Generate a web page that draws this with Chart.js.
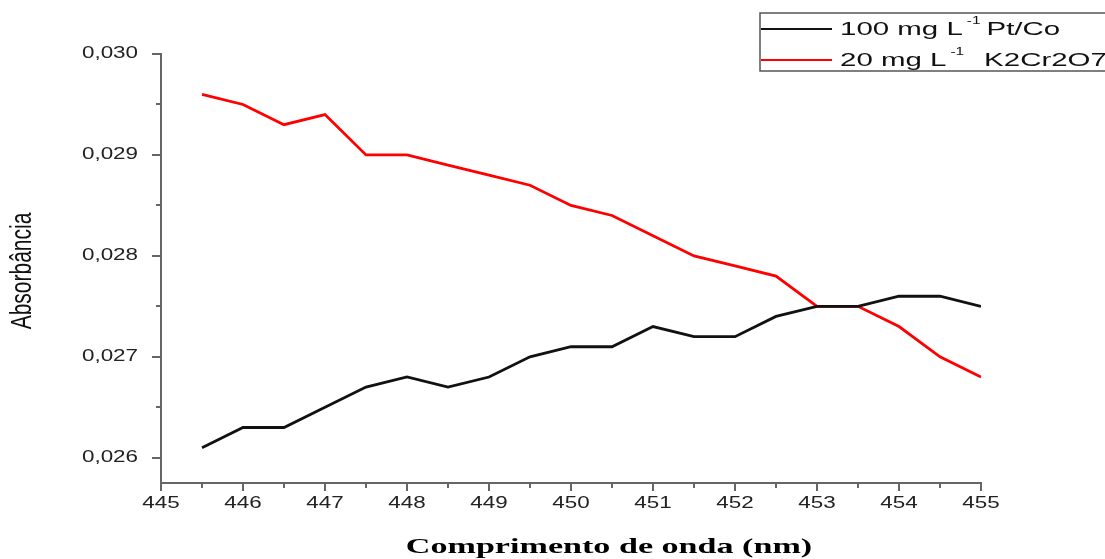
<!DOCTYPE html>
<html>
<head>
<meta charset="utf-8">
<script src="https://cdn.jsdelivr.net/npm/chart.js@4/dist/chart.umd.min.js"></script>
<style>
  html, body { margin: 0; padding: 0; background: #fff; }
  #wrap { width: 1105px; height: 559px; position: relative; }
</style>
</head>
<body>
<div id="wrap"><canvas id="absChart"></canvas></div>
<script>
// wavelength (nm)
var wavelengths = [445.5, 446, 446.5, 447, 447.5, 448, 448.5, 449, 449.5, 450,
                   450.5, 451, 451.5, 452, 452.5, 453, 453.5, 454, 454.5, 455];
var ptCo = [0.0261, 0.0263, 0.0263, 0.0265, 0.0267, 0.0268, 0.0267, 0.0268, 0.0270, 0.0271,
            0.0271, 0.0273, 0.0272, 0.0272, 0.0274, 0.0275, 0.0275, 0.0276, 0.0276, 0.0275];
var k2cr2o7 = [0.0296, 0.0295, 0.0293, 0.0294, 0.0290, 0.0290, 0.0289, 0.0288, 0.0287, 0.0285,
               0.0284, 0.0282, 0.0280, 0.0279, 0.0278, 0.0275, 0.0275, 0.0273, 0.0270, 0.0268];
var xTicks = [445, 446, 447, 448, 449, 450, 451, 452, 453, 454, 455];
var yTicks = [0.026, 0.027, 0.028, 0.029, 0.030];

var axisColor = '#666';
var SANS = '"Liberation Sans", Arial, sans-serif';
var SERIF = '"Liberation Serif", "Times New Roman", serif';
// the original picture is stretched sideways, so text is widened
var SX = 1.4;

function toPoints(ys) {
  return wavelengths.map(function (x, i) { return { x: x, y: ys[i] }; });
}

function wideText(ctx, txt, x, y, sx, align) {
  ctx.save();
  ctx.translate(x, y);
  ctx.scale(sx, 1);
  ctx.textAlign = align || 'left';
  ctx.fillText(txt, 0, 0);
  ctx.restore();
  return ctx.measureText(txt).width * sx;
}

// ticks, tick labels and axis titles
var axisPlugin = {
  id: 'axisDecor',
  afterDraw: function (chart) {
    var ctx = chart.ctx;
    var xs = chart.scales.x, ys = chart.scales.y;
    var area = chart.chartArea;
    ctx.save();
    ctx.strokeStyle = axisColor;
    ctx.lineWidth = 2;
    ctx.beginPath();
    for (var v = xTicks[0]; v <= xTicks[xTicks.length - 1] + 1e-9; v += 0.5) {
      var px = Math.round(xs.getPixelForValue(v));
      var major = Math.abs(v - Math.round(v)) < 1e-9;
      ctx.moveTo(px, area.bottom);
      ctx.lineTo(px, area.bottom + (major ? 8 : 5));
    }
    for (var k = 0; k < yTicks.length; k++) {
      var py = Math.round(ys.getPixelForValue(yTicks[k]));
      ctx.moveTo(area.left, py);
      ctx.lineTo(area.left - 9, py);
      var mid = yTicks[k] - 0.0005;
      if (mid >= ys.min) {
        var pm = Math.round(ys.getPixelForValue(mid));
        ctx.moveTo(area.left, pm);
        ctx.lineTo(area.left - 5, pm);
      }
    }
    ctx.stroke();

    // tick labels
    ctx.fillStyle = '#222';
    ctx.font = '16px ' + SANS;
    ctx.textBaseline = 'middle';
    xTicks.forEach(function (t) {
      wideText(ctx, String(t), xs.getPixelForValue(t), area.bottom + 21, SX, 'center');
    });
    yTicks.forEach(function (t) {
      wideText(ctx, t.toFixed(3).replace('.', ','), area.left - 23, ys.getPixelForValue(t), SX, 'right');
    });

    // x title
    ctx.fillStyle = '#000';
    ctx.font = 'bold 22px ' + SERIF;
    ctx.textBaseline = 'alphabetic';
    wideText(ctx, 'Comprimento de onda (nm)', 609, 553, 1.55, 'center');

    // y title (rotated)
    ctx.fillStyle = '#111';
    ctx.font = '21px ' + SANS;
    ctx.textBaseline = 'middle';
    ctx.save();
    ctx.translate(23, 271);
    ctx.scale(SX, 1);
    ctx.rotate(-Math.PI / 2);
    ctx.textAlign = 'center';
    ctx.fillText('Absorbância', 0, 0);
    ctx.restore();
    ctx.restore();
  }
};

// legend box like the original (with superscript)
var legendPlugin = {
  id: 'boxLegend',
  afterDraw: function (chart) {
    var ctx = chart.ctx;
    var ds = chart.data.datasets;
    var bx = 760, by = 13, bw = 360, bh = 58;
    ctx.save();
    ctx.strokeStyle = '#555';
    ctx.lineWidth = 1.5;
    ctx.strokeRect(bx, by, bw, bh);
    var rows = [
      { pre: '100 mg L', sup: '-1', gap: 6, post: 'Pt/Co', y: 29 },
      { pre: '20 mg L', sup: '-1', gap: 20, post: 'K2Cr2O7', y: 60 }
    ];
    for (var i = 0; i < rows.length; i++) {
      var cy = rows[i].y;
      ctx.strokeStyle = ds[i].borderColor;
      ctx.lineWidth = 2.2;
      ctx.beginPath();
      ctx.moveTo(bx + 1, cy);
      ctx.lineTo(bx + 72, cy);
      ctx.stroke();
      ctx.fillStyle = '#111';
      ctx.textBaseline = 'middle';
      ctx.font = '19px ' + SANS;
      var tx = 840;
      tx += wideText(ctx, rows[i].pre, tx, cy + 1, 1.55) + 4;
      ctx.font = '11px ' + SANS;
      tx += wideText(ctx, rows[i].sup, tx, cy - 8, 1.4) + rows[i].gap;
      ctx.font = '19px ' + SANS;
      wideText(ctx, rows[i].post, tx, cy + 1, 1.55);
    }
    ctx.restore();
  }
};

var ctx = document.getElementById('absChart').getContext('2d');
var absChart = new Chart(ctx, {
  type: 'line',
  data: {
    datasets: [{
      label: '100 mg L-1 Pt/Co',
      data: toPoints(ptCo),
      borderColor: '#111111',
      borderWidth: 2.8,
      pointRadius: 0,
      tension: 0
    }, {
      label: '20 mg L-1  K2Cr2O7',
      data: toPoints(k2cr2o7),
      borderColor: '#ff0000',
      borderWidth: 2.8,
      pointRadius: 0,
      tension: 0
    }]
  },
  options: {
    responsive: true,
    maintainAspectRatio: false,
    animation: false,
    layout: {
      padding: { top: 54, right: 124, left: 0, bottom: 0 }
    },
    plugins: {
      legend: { display: false },
      tooltip: { enabled: false }
    },
    scales: {
      x: {
        type: 'linear',
        min: 445,
        max: 455,
        afterBuildTicks: function (scale) {
          scale.ticks = xTicks.map(function (v) { return { value: v }; });
        },
        afterFit: function (scale) { scale.height = 76; },
        grid: { display: false, drawTicks: false },
        border: { display: true, color: axisColor, width: 2 },
        ticks: { display: false }
      },
      y: {
        min: 0.02575,
        max: 0.030,
        afterBuildTicks: function (scale) {
          scale.ticks = yTicks.map(function (v) { return { value: v }; });
        },
        afterFit: function (scale) { scale.width = 161; },
        grid: { display: false, drawTicks: false },
        border: { display: true, color: axisColor, width: 2 },
        ticks: { display: false }
      }
    }
  },
  plugins: [axisPlugin, legendPlugin]
});
</script>
</body>
</html>
